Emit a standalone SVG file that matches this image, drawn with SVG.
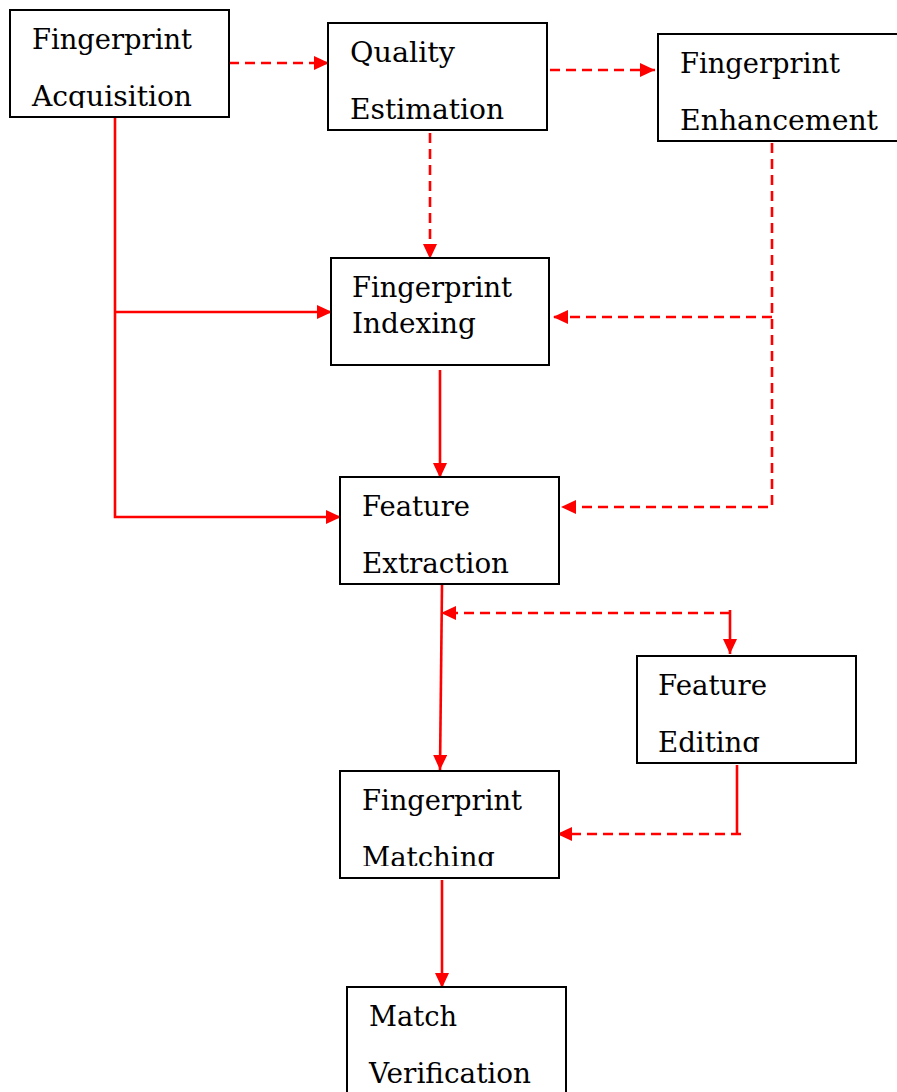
<svg xmlns="http://www.w3.org/2000/svg" width="897" height="1092" viewBox="0 0 897 1092">
<style>
.box{fill:#fff;stroke:#000;stroke-width:2}
.t{font-family:"DejaVu Serif","Liberation Serif",serif;font-size:27.5px;fill:#000}
.c{fill:none;stroke:#f00;stroke-width:2.6}
.d{stroke-dasharray:10,6}
</style>
<defs>
<marker id="ah" viewBox="0 0 15 14" refX="15" refY="7" markerWidth="15" markerHeight="14" markerUnits="userSpaceOnUse" orient="auto">
<path d="M0,0 L15,7 L0,14 Z" fill="#f00"/>
</marker>
<clipPath id="cA"><rect x="10" y="10" width="219" height="98"/></clipPath>
<clipPath id="cFE"><rect x="637" y="656" width="219" height="96"/></clipPath>
<clipPath id="cM"><rect x="340" y="771" width="219" height="95"/></clipPath>
<clipPath id="cV"><rect x="347" y="987" width="219" height="96"/></clipPath>
</defs>
<rect width="897" height="1092" fill="#fff"/>
<g id="connectors">
<line class="c d" x1="229" y1="63" x2="329" y2="63" marker-end="url(#ah)"/>
<line class="c d" x1="550" y1="70" x2="655" y2="70" marker-end="url(#ah)"/>
<line class="c d" x1="430" y1="133" x2="430" y2="259" marker-end="url(#ah)"/>
<polyline class="c d" points="772,143 772,507 561,507" marker-end="url(#ah)"/>
<line class="c d" x1="772" y1="317" x2="553" y2="317" marker-end="url(#ah)"/>
<polyline class="c" points="115,118 115,517 341,517" marker-end="url(#ah)"/>
<line class="c" x1="115" y1="312" x2="332" y2="312" marker-end="url(#ah)"/>
<line class="c" x1="440" y1="370" x2="440" y2="478" marker-end="url(#ah)"/>
<line class="c" x1="442" y1="585" x2="440" y2="770" marker-end="url(#ah)"/>
<line class="c d" x1="730" y1="613" x2="441" y2="613" marker-end="url(#ah)"/>
<line class="c" x1="730" y1="610" x2="730" y2="654" marker-end="url(#ah)"/>
<line class="c" x1="737" y1="765" x2="737" y2="835"/>
<line class="c d" x1="741" y1="834" x2="557" y2="834" marker-end="url(#ah)"/>
<line class="c" x1="442" y1="880" x2="442" y2="988" marker-end="url(#ah)"/>
</g>
<g id="acquisition">
<rect class="box" x="10" y="10" width="219" height="107"/>
<g clip-path="url(#cA)">
<text class="t" x="32" y="49" textLength="160" lengthAdjust="spacingAndGlyphs">Fingerprint</text>
<text class="t" x="32" y="106" textLength="160" lengthAdjust="spacingAndGlyphs">Acquisition</text>
</g>
</g>
<g id="quality">
<rect class="box" x="328" y="23" width="219" height="107"/>
<text class="t" x="350" y="62" textLength="105" lengthAdjust="spacingAndGlyphs">Quality</text>
<text class="t" x="350" y="119" textLength="154" lengthAdjust="spacingAndGlyphs">Estimation</text>
</g>
<g id="enhancement">
<rect class="box" x="658" y="34" width="250" height="107"/>
<text class="t" x="680" y="73" textLength="160" lengthAdjust="spacingAndGlyphs">Fingerprint</text>
<text class="t" x="680" y="130" textLength="198" lengthAdjust="spacingAndGlyphs">Enhancement</text>
</g>
<g id="indexing">
<rect class="box" x="331" y="258" width="218" height="107"/>
<text class="t" x="352" y="297" textLength="160" lengthAdjust="spacingAndGlyphs">Fingerprint</text>
<text class="t" x="352" y="333" textLength="124" lengthAdjust="spacingAndGlyphs">Indexing</text>
</g>
<g id="extraction">
<rect class="box" x="340" y="477" width="219" height="107"/>
<text class="t" x="362" y="516" textLength="108" lengthAdjust="spacingAndGlyphs">Feature</text>
<text class="t" x="362" y="573" textLength="147" lengthAdjust="spacingAndGlyphs">Extraction</text>
</g>
<g id="editing">
<rect class="box" x="637" y="656" width="219" height="107"/>
<g clip-path="url(#cFE)">
<text class="t" x="658" y="695" textLength="109" lengthAdjust="spacingAndGlyphs">Feature</text>
<text class="t" x="658" y="752" textLength="102" lengthAdjust="spacingAndGlyphs">Editing</text>
</g>
</g>
<g id="matching">
<rect class="box" x="340" y="771" width="219" height="107"/>
<g clip-path="url(#cM)">
<text class="t" x="362" y="810" textLength="160" lengthAdjust="spacingAndGlyphs">Fingerprint</text>
<text class="t" x="362" y="867" textLength="133" lengthAdjust="spacingAndGlyphs">Matching</text>
</g>
</g>
<g id="verification">
<rect class="box" x="347" y="987" width="219" height="120"/>
<g clip-path="url(#cV)">
<text class="t" x="369" y="1026" textLength="88" lengthAdjust="spacingAndGlyphs">Match</text>
<text class="t" x="369" y="1083" textLength="162" lengthAdjust="spacingAndGlyphs">Verification</text>
</g>
</g>
</svg>
